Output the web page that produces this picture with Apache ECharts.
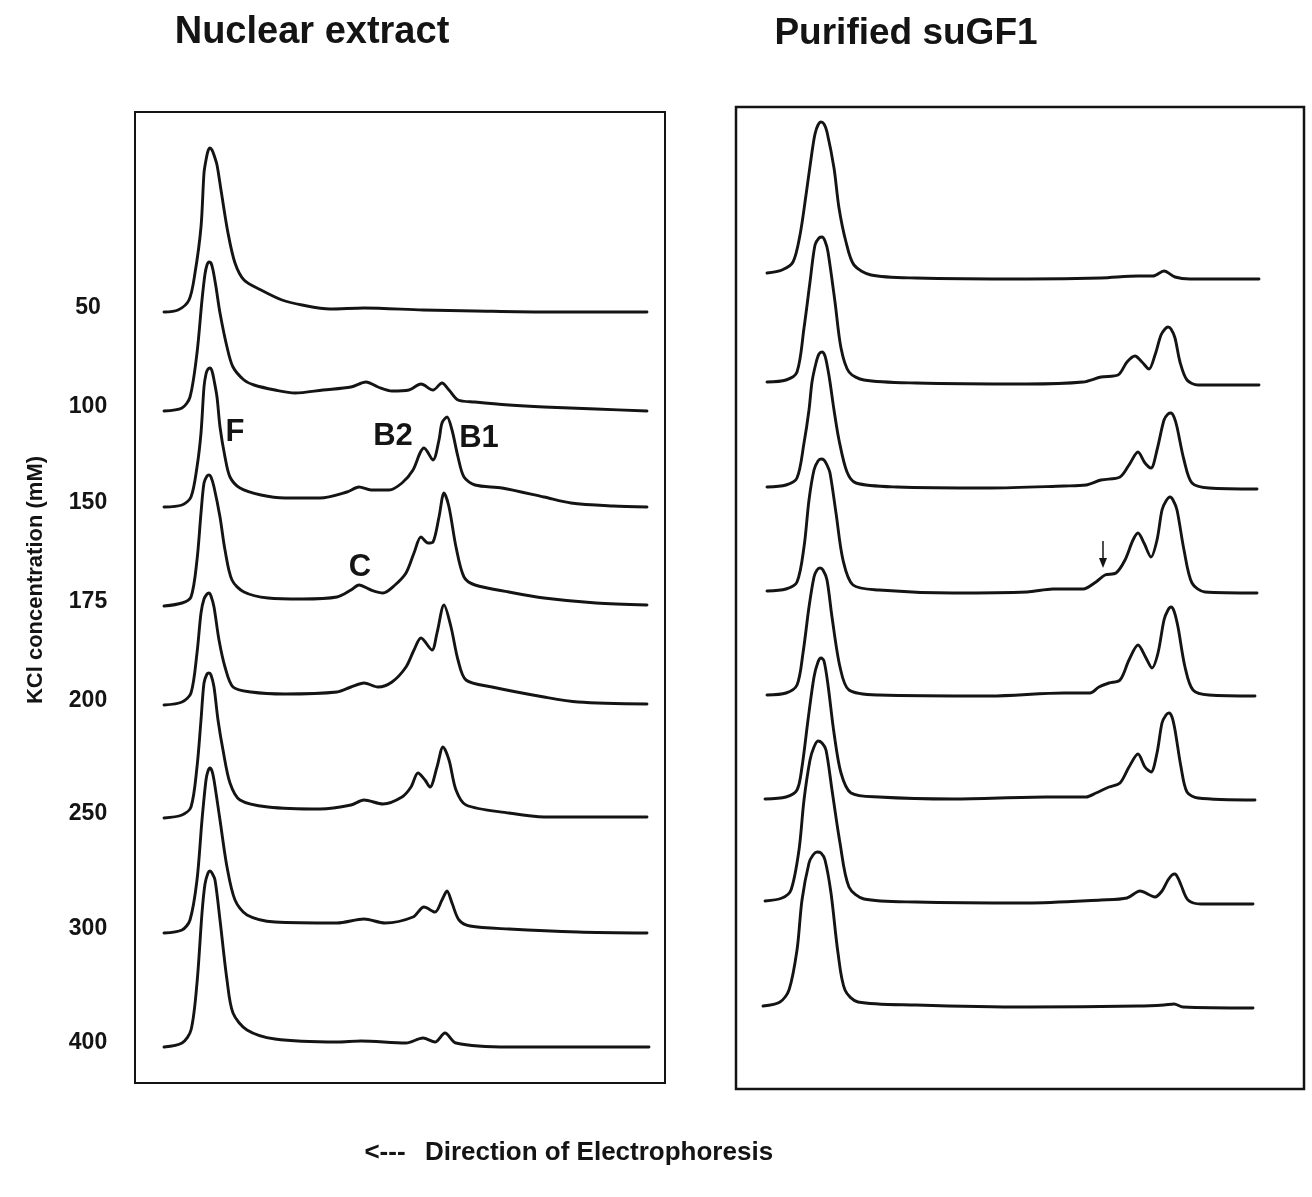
<!DOCTYPE html>
<html>
<head>
<meta charset="utf-8">
<script src="https://cdn.jsdelivr.net/npm/echarts@6/dist/echarts.min.js"></script>
<style>
  html, body { margin: 0; padding: 0; background: #ffffff; }
  #chart { width: 1312px; height: 1197px; }
</style>
</head>
<body>
<div id="chart"></div>
<script>
// ---------------- DATA (migration position, relative absorbance) ----------------
const kclLevels = ['50', '100', '150', '175', '200', '250', '300', '400'];

// Nuclear extract traces
const nuc50 = [[0,0],[14,2],[25,12],[31,39],[37,85],[40,139],[42,152],[44,161],[46,164],[48,162],[50,157],[53,147],[57,122],[64,79],[71,49],[80,32],[97,22],[118,12],[138,7],[166,3],[200,4],[259,2],[311,1],[380,0],[483,0]];
const nuc100 = [[0,0],[18,3],[26,14],[33,58],[38,111],[41,137],[43,146],[45,149],[47,148],[49,141],[52,124],[56,98],[63,64],[69,44],[80,31],[90,26],[111,21],[131,18],[159,21],[187,24],[202,29],[214,24],[228,20],[245,21],[257,27],[269,21],[278,28],[285,21],[294,11],[311,9],[345,6],[380,4],[432,2],[483,0]];
const nuc150 = [[0,0],[18,2],[27,10],[33,40],[37,74],[40,120],[42,133],[44,138],[46,139],[48,136],[50,127],[53,110],[56,80],[61,50],[66,30],[76,19],[97,12],[121,9],[156,9],[183,15],[195,20],[207,17],[225,17],[238,24],[249,37],[256,54],[260,59],[269,47],[275,67],[278,84],[283,90],[288,77],[294,50],[300,30],[311,22],[338,19],[380,10],[407,4],[449,1],[483,0]];
const nuc175 = [[0,0],[18,3],[27,9],[33,46],[37,93],[40,123],[43,130],[45,131],[47,129],[50,119],[56,89],[61,56],[68,26],[80,14],[104,8],[138,7],[173,9],[187,16],[195,21],[207,16],[219,13],[231,21],[242,33],[250,53],[257,69],[264,63],[269,64],[275,89],[280,113],[285,99],[292,59],[300,29],[311,21],[345,14],[380,8],[432,3],[483,1]];
const nuc200 = [[0,0],[18,3],[27,12],[33,52],[37,92],[40,106],[43,111],[45,112],[47,109],[50,98],[55,65],[61,38],[69,18],[87,13],[121,11],[173,13],[187,18],[200,22],[214,18],[228,23],[242,38],[250,55],[257,67],[268,55],[273,72],[280,100],[287,78],[294,45],[302,25],[328,18],[380,8],[414,3],[483,1]];
const nuc250 = [[0,0],[18,3],[27,11],[33,51],[37,98],[40,135],[43,144],[45,145],[47,143],[50,131],[54,98],[59,68],[66,35],[76,18],[104,11],[156,9],[187,13],[200,18],[219,14],[238,21],[247,31],[254,45],[261,38],[266,31],[273,51],[279,71],[285,58],[292,28],[302,13],[345,5],[380,1],[483,1]];
const nuc300 = [[0,0],[18,3],[26,13],[33,53],[38,113],[42,153],[44,162],[46,165],[48,162],[50,153],[56,113],[63,66],[71,33],[83,18],[111,11],[173,10],[200,14],[221,10],[249,16],[260,26],[271,21],[278,33],[283,42],[288,30],[295,13],[306,7],[345,4],[414,1],[483,0]];
const nuc400 = [[0,0],[18,4],[27,17],[33,64],[38,134],[41,163],[44,174],[46,176],[48,174],[51,167],[56,127],[63,67],[69,34],[83,17],[111,8],[173,5],[197,6],[242,4],[259,9],[271,5],[281,14],[292,4],[345,0],[414,0],[485,0]];

// Purified suGF1 traces
const pur50 = [[4,6],[19,9],[30,17],[37,44],[43,84],[49,127],[52,145],[55,154],[58,157],[61,155],[64,147],[71,111],[76,71],[83,37],[91,14],[108,4],[153,1],[264,0],[338,1],[375,3],[390,3],[401,8],[412,2],[427,0],[496,0]];
const pur100 = [[4,3],[23,5],[34,13],[41,57],[47,103],[52,140],[56,147],[59,148],[62,144],[65,133],[72,83],[78,37],[86,13],[101,5],[153,2],[264,1],[320,3],[338,8],[355,10],[364,23],[372,29],[379,23],[386,16],[392,30],[398,50],[402,56],[405,58],[408,56],[412,47],[417,23],[424,5],[435,0],[496,0]];
const pur150 = [[4,2],[23,4],[34,11],[41,46],[46,79],[49,107],[53,126],[56,135],[59,137],[62,133],[65,119],[67,107],[71,79],[76,49],[84,17],[93,6],[134,2],[227,1],[301,3],[323,4],[338,9],[357,12],[366,24],[375,37],[382,26],[388,21],[394,39],[401,69],[405,75],[408,76],[411,72],[414,62],[421,29],[429,6],[446,1],[494,0]];
const pur175 = [[4,2],[23,4],[34,11],[41,46],[46,93],[51,123],[55,132],[58,134],[61,133],[64,128],[67,120],[73,80],[80,33],[90,8],[116,3],[190,0],[264,1],[290,4],[320,4],[333,11],[342,18],[353,20],[362,33],[370,53],[375,60],[381,50],[388,36],[394,53],[399,83],[403,92],[407,96],[410,93],[414,83],[421,43],[429,10],[442,1],[494,0]];
const pur200 = [[4,1],[23,3],[34,11],[40,43],[46,89],[51,119],[54,126],[57,128],[60,126],[64,116],[69,79],[77,29],[86,6],[116,1],[227,0],[301,3],[327,3],[336,9],[346,13],[357,16],[366,36],[375,51],[383,38],[389,28],[395,43],[401,76],[405,86],[408,89],[411,85],[415,69],[422,29],[430,6],[446,1],[492,0]];
const pur250 = [[2,1],[23,3],[34,10],[39,33],[45,80],[51,123],[55,138],[58,142],[61,139],[65,115],[71,67],[78,27],[88,7],[116,3],[190,1],[283,3],[323,3],[333,7],[346,13],[357,17],[366,33],[375,46],[382,33],[388,28],[394,47],[399,77],[403,85],[406,87],[409,83],[412,70],[418,33],[424,8],[435,2],[492,0]];
const pur300 = [[2,3],[19,6],[28,14],[36,54],[41,104],[47,144],[51,157],[55,163],[59,161],[63,154],[69,114],[77,61],[86,17],[101,5],[153,2],[264,1],[338,4],[364,6],[377,13],[392,7],[399,13],[405,24],[409,29],[412,30],[415,26],[418,19],[425,4],[438,0],[490,0]];
const pur400 = [[0,2],[17,6],[26,18],[34,58],[39,108],[46,145],[50,153],[54,156],[58,155],[62,148],[68,115],[75,55],[82,18],[95,6],[153,3],[264,1],[375,2],[401,3],[411,4],[420,1],[490,0]];

const nuclearTraces = [nuc50, nuc100, nuc150, nuc175, nuc200, nuc250, nuc300, nuc400];
const purifiedTraces = [pur50, pur100, pur150, pur175, pur200, pur250, pur300, pur400];

// ---------------- LAYOUT ----------------
const LEFT_X0 = 164, RIGHT_X0 = 763, X_SPAN = 500;
const LEFT_BASE = [312, 411, 507, 606, 705, 818, 933, 1047];
const RIGHT_BASE = [279, 385, 489, 593, 696, 800, 904, 1008];
const Y_MIN = -20, Y_MAX = 200;
const INK = '#141414';
const FONT = '"Liberation Sans", Arial, Helvetica, sans-serif';

const grids = [], xAxes = [], yAxes = [], series = [];

function addTrace(data, x0, base, label) {
  const idx = grids.length;
  grids.push({ left: x0, width: X_SPAN, top: base - Y_MAX, height: Y_MAX - Y_MIN, containLabel: false });
  xAxes.push({ type: 'value', gridIndex: idx, min: 0, max: 500, show: false });
  yAxes.push({
    type: 'value', gridIndex: idx, min: Y_MIN, max: Y_MAX, interval: 20,
    axisLine: { show: false }, axisTick: { show: false }, splitLine: { show: false },
    axisLabel: label === null ? { show: false } : {
      show: true, margin: 76, align: 'center', verticalAlign: 'bottom',
      lineHeight: 9,
      fontFamily: FONT, fontWeight: 'bold', fontSize: 23, color: INK,
      formatter: (v) => (v === 0 ? label : '')
    }
  });
  series.push({
    type: 'line', xAxisIndex: idx, yAxisIndex: idx, data: data,
    showSymbol: false, symbol: 'none', smooth: 0.3, clip: false,
    lineStyle: { color: INK, width: 2.9, join: 'round', cap: 'round' },
    silent: true, animation: false
  });
}

nuclearTraces.forEach((d, i) => addTrace(d, LEFT_X0, LEFT_BASE[i], kclLevels[i]));
purifiedTraces.forEach((d, i) => addTrace(d, RIGHT_X0, RIGHT_BASE[i], null));

function txt(x, y, text, size, rotation) {
  return {
    type: 'text', x: x, y: y, silent: true, rotation: rotation || 0,
    style: {
      text: text, fill: INK, font: 'bold ' + size + 'px ' + FONT,
      textAlign: 'center', textVerticalAlign: 'middle'
    }
  };
}

const graphics = [
  { type: 'rect', shape: { x: 135, y: 112, width: 530, height: 971 }, style: { fill: 'none', stroke: INK, lineWidth: 2 }, silent: true },
  { type: 'rect', shape: { x: 736, y: 107, width: 568, height: 982 }, style: { fill: 'none', stroke: INK, lineWidth: 2.5 }, silent: true },
  txt(312, 33, 'Nuclear extract', 38),
  txt(906, 34, 'Purified suGF1', 37),
  txt(36, 580, 'KCl concentration (mM)', 22, Math.PI / 2),
  txt(235, 432, 'F', 31),
  txt(393, 436, 'B2', 31),
  txt(479, 438, 'B1', 31),
  txt(360, 567, 'C', 31),
  txt(385, 1153, '<---', 26),
  txt(599, 1153, 'Direction of Electrophoresis', 26),
  { type: 'line', shape: { x1: 1103, y1: 541, x2: 1103, y2: 562 }, style: { stroke: INK, lineWidth: 1.5 }, silent: true },
  { type: 'polygon', shape: { points: [[1099, 558], [1107, 558], [1103, 568]] }, style: { fill: INK }, silent: true }
];

const chart = echarts.init(document.getElementById('chart'), null, { renderer: 'canvas' });
chart.setOption({
  backgroundColor: '#ffffff',
  animation: false,
  grid: grids,
  xAxis: xAxes,
  yAxis: yAxes,
  series: series,
  graphic: graphics
});
</script>
</body>
</html>
